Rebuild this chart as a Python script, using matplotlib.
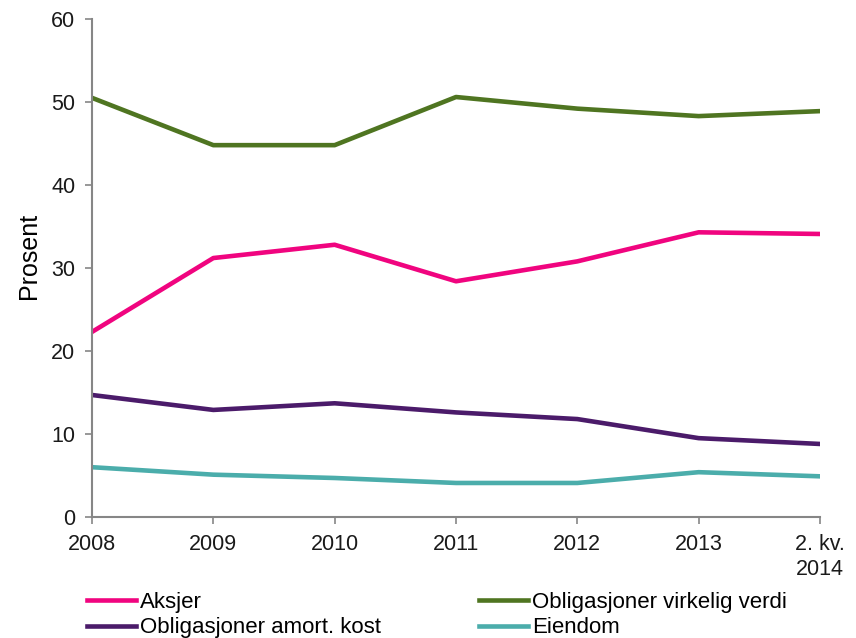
import matplotlib
matplotlib.use("Agg")
import matplotlib.pyplot as plt

categories = ["2008", "2009", "2010", "2011", "2012", "2013", "2. kv.\n2014"]
aksjer = [22.3, 31.2, 32.8, 28.4, 30.8, 34.3, 34.1]
oblig_virkelig = [50.5, 44.8, 44.8, 50.6, 49.2, 48.3, 48.9]
oblig_amort = [14.7, 12.9, 13.7, 12.6, 11.8, 9.5, 8.8]
eiendom = [6.0, 5.1, 4.7, 4.1, 4.1, 5.4, 4.9]
yticks = [0, 10, 20, 30, 40, 50, 60]

plt.rcParams['font.family'] = ['Liberation Sans', 'DejaVu Sans']
W, H = 856, 638
fig = plt.figure(figsize=(W/100, H/100), dpi=100)
ax = fig.add_axes([92/W, 1-517/H, (820-92)/W, (517-19)/H])

x = list(range(len(categories)))
lw = 3.3
l1, = ax.plot(x, aksjer, color="#F0047F", lw=lw, label="Aksjer", solid_joinstyle='round')
l2, = ax.plot(x, oblig_virkelig, color="#4F7521", lw=lw, label="Obligasjoner virkelig verdi", solid_joinstyle='round')
l3, = ax.plot(x, oblig_amort, color="#4B1B6A", lw=lw, label="Obligasjoner amort. kost", solid_joinstyle='round')
l4, = ax.plot(x, eiendom, color="#4BADAB", lw=lw, label="Eiendom", solid_joinstyle='round')

ax.set_xlim(0, len(categories)-1)
ax.set_ylim(0, 60)
ax.set_yticks(yticks)
ax.set_xticks(x)
ax.set_xticklabels(categories, fontsize=15.5, linespacing=1.3)
ax.tick_params(axis='y', labelsize=15.5)
for s in ['top', 'right']:
    ax.spines[s].set_visible(False)
for s in ['left', 'bottom']:
    ax.spines[s].set_color('#868686')
    ax.spines[s].set_linewidth(1.5)
ax.tick_params(direction='out', length=5, width=1.2, color='#868686', labelcolor='#1a1a1a')
ax.tick_params(axis='x', pad=7)
ax.tick_params(axis='y', pad=7)
ax.set_ylabel("Prosent", fontsize=18, labelpad=8)
ax.yaxis.set_label_coords(-0.07, 0.525)

leg = fig.legend(handles=[l1, l3, l2, l4], ncol=2, loc='upper left',
                 bbox_to_anchor=(87/W, 1-592/H), frameon=False, fontsize=16,
                 handlelength=2.2, handletextpad=0.2, columnspacing=4.4,
                 labelspacing=0.2, borderaxespad=0, borderpad=0)
fig.savefig("out.png", dpi=100)
